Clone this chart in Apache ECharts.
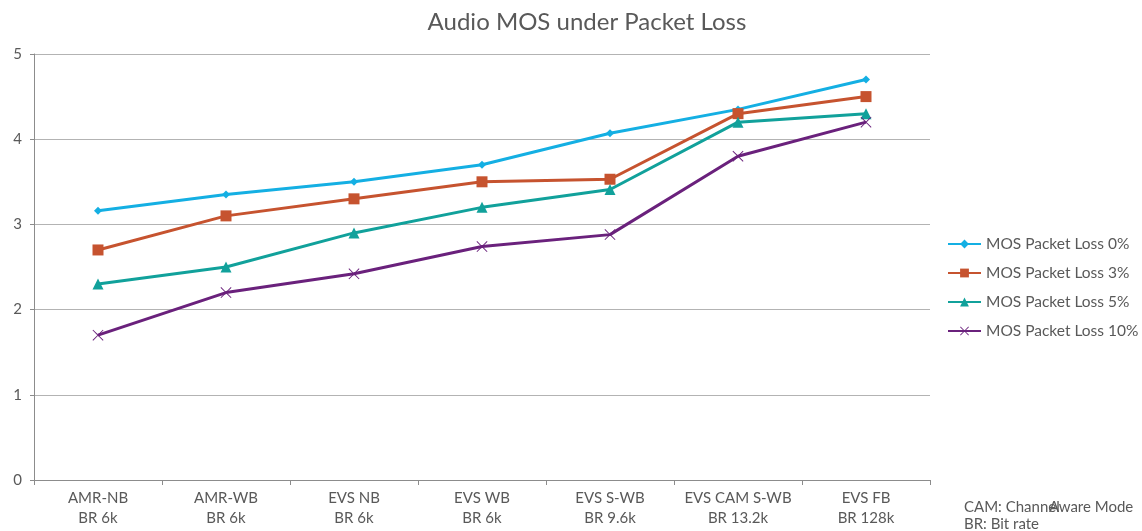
<!DOCTYPE html>
<html>
<head>
<meta charset="utf-8">
<script src="https://cdn.jsdelivr.net/npm/echarts@6/dist/echarts.min.js"></script>
<style>
html, body { margin: 0; padding: 0; background: #fff; }
#lineChart { width: 1142px; height: 531px; }
</style>
</head>
<body>
<div id="lineChart"></div>
<script>
var categories = ['AMR-NB\nBR 6k', 'AMR-WB\nBR 6k', 'EVS NB\nBR 6k', 'EVS WB\nBR 6k',
	'EVS S-WB\nBR 9.6k', 'EVS CAM S-WB\nBR 13.2k', 'EVS FB\nBR 128k'];
var seriesNames = ['MOS Packet Loss 0%', 'MOS Packet Loss 3%', 'MOS Packet Loss 5%', 'MOS Packet Loss 10%'];
var loss0 = [3.16, 3.35, 3.5, 3.7, 4.07, 4.35, 4.7];
var loss3 = [2.7, 3.1, 3.3, 3.5, 3.53, 4.3, 4.5];
var loss5 = [2.3, 2.5, 2.9, 3.2, 3.41, 4.2, 4.3];
var loss10 = [1.7, 2.2, 2.42, 2.74, 2.88, 3.8, 4.2];
var yTicks = [0, 1, 2, 3, 4, 5];

var font = 'Lato, "Noto Sans", sans-serif';
var textGray = '#595959';
// thin "x" marker
var crossPath = 'path://M0,0.6L0.6,0L5,4.4L9.4,0L10,0.6L5.6,5L10,9.4L9.4,10L5,5.6L0.6,10L0,9.4L4.4,5Z';

var makeSeries = function(name, data, color, symbol, size) {
	return {
		name: name,
		type: 'line',
		data: data,
		symbol: symbol,
		symbolSize: size,
		showAllSymbol: true,
		lineStyle: { color: color, width: 3 },
		itemStyle: { color: color },
		emphasis: { disabled: true },
		z: 3
	};
};

var option = {
	animation: false,
	backgroundColor: '#fff',
	textStyle: { fontFamily: font },
	title: {
		text: 'Audio MOS under Packet Loss',
		left: 582,
		textAlign: 'center',
		top: 5,
		textStyle: { fontFamily: font, fontSize: 24, fontWeight: 'normal', color: textGray }
	},
	legend: {
		orient: 'vertical',
		left: 942,
		top: 231,
		padding: 5,
		itemWidth: 33,
		itemHeight: 11,
		itemGap: 13,
		data: seriesNames,
		textStyle: { fontFamily: font, fontSize: 15.5, color: textGray }
	},
	grid: {
		left: 34,
		right: 212,
		top: 54,
		bottom: 51,
		containLabel: false
	},
	xAxis: {
		type: 'category',
		data: categories,
		axisLine: { lineStyle: { color: '#8c8c8c', width: 1 } },
		axisTick: { show: true, length: 5, lineStyle: { color: '#8c8c8c' } },
		axisLabel: { color: textGray, fontSize: 15, fontFamily: font, lineHeight: 20, margin: 8, interval: 0 }
	},
	yAxis: {
		type: 'value',
		min: yTicks[0],
		max: yTicks[yTicks.length - 1],
		interval: 1,
		axisLine: { show: true, lineStyle: { color: '#8c8c8c', width: 1 } },
		axisTick: { show: true, length: 4, lineStyle: { color: '#8c8c8c' } },
		axisLabel: { color: textGray, fontSize: 15, fontFamily: font, margin: 12 },
		splitLine: { lineStyle: { color: '#b3b3b3', width: 1 } }
	},
	series: [
		makeSeries(seriesNames[0], loss0, '#14AFE3', 'diamond', 8),
		makeSeries(seriesNames[1], loss3, '#C6532F', 'rect', 11),
		makeSeries(seriesNames[2], loss5, '#11A19B', 'triangle', 11),
		makeSeries(seriesNames[3], loss10, '#6A217C', crossPath, 11)
	],
	graphic: [
		{ type: 'text', left: 964, top: 500, style: { text: 'CAM: Channel', fill: textGray, font: '15px ' + font } },
		{ type: 'text', left: 1049, top: 500, style: { text: 'Aware Mode', fill: textGray, font: '15px ' + font } },
		{ type: 'text', left: 964, top: 517, style: { text: 'BR: Bit rate', fill: textGray, font: '15px ' + font } }
	]
};

var byId = function(id) {
	return document.getElementById(id);
};
var lineChart = echarts.init(byId('lineChart'), null, { renderer: 'canvas' });
lineChart.setOption(option);
</script>
</body>
</html>
